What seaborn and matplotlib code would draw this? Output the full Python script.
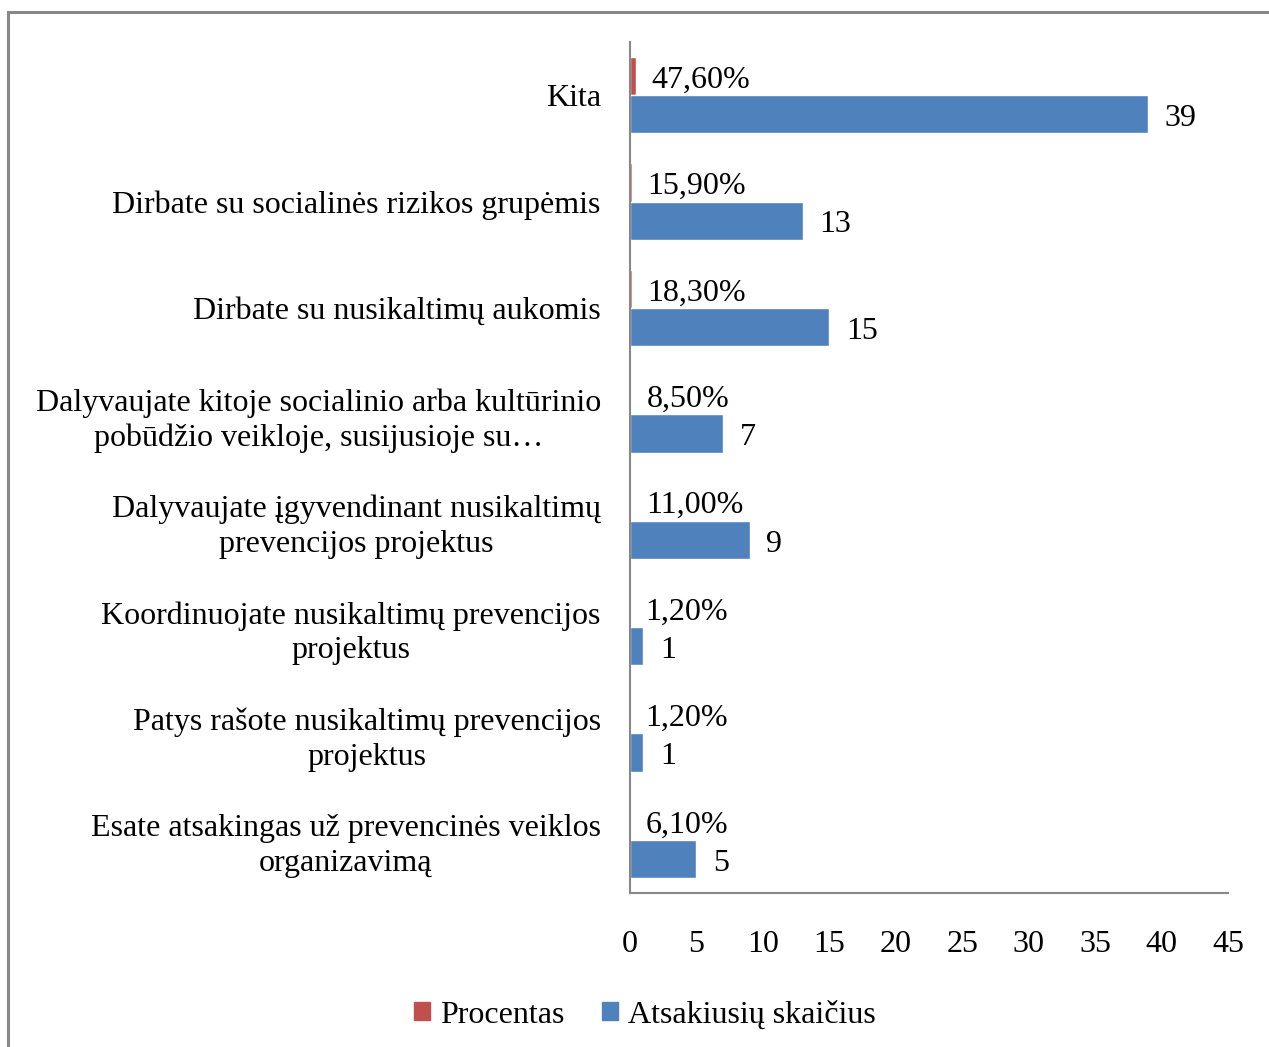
import pandas as pd
import seaborn as sns
import matplotlib.pyplot as plt
from matplotlib.patches import Rectangle

categories = [
    'Kita',
    'Dirbate su socialinės rizikos grupėmis',
    'Dirbate su nusikaltimų aukomis',
    'Dalyvaujate kitoje socialinio arba kultūrinio\npobūdžio veikloje, susijusioje su…',
    'Dalyvaujate įgyvendinant nusikaltimų\nprevencijos projektus',
    'Koordinuojate nusikaltimų prevencijos\nprojektus',
    'Patys rašote nusikaltimų prevencijos\nprojektus',
    'Esate atsakingas už prevencinės veiklos\norganizavimą',
]
percent = [47.6, 15.9, 18.3, 8.5, 11.0, 1.2, 1.2, 6.1]
count = [39, 13, 15, 7, 9, 1, 1, 5]
series = ['Procentas', 'Atsakiusių skaičius']
colors = ['#C0504D', '#4F81BD']

df = pd.DataFrame({
    'cat': categories * 2,
    'value': [p / 100 for p in percent] + count,
    'series': [series[0]] * len(categories) + [series[1]] * len(categories),
})

FS = 23

sns.set_theme(style='white')
plt.rcParams['font.family'] = ['Liberation Serif', 'DejaVu Serif']
plt.rcParams['text.color'] = 'black'
plt.rcParams['xtick.color'] = 'black'
plt.rcParams['ytick.color'] = 'black'

fig = plt.figure(figsize=(12.69, 10.47), dpi=100)
ax = fig.add_axes([630 / 1269, 1 - 893 / 1047, 598 / 1269, 851 / 1047])

sns.barplot(data=df, y='cat', x='value', hue='series', order=categories,
            hue_order=series, palette=colors, orient='h', width=0.72,
            saturation=1, ax=ax, legend=False)

ax.set_xlim(0, 45)
ax.set_ylim(7.5, -0.5)
ax.set_xticks(range(0, 50, 5))
ax.set_xlabel('')
ax.set_ylabel('')
ax.tick_params(axis='x', length=0, pad=27, labelsize=FS)
ax.tick_params(axis='y', length=0, pad=21, labelsize=FS)
for lbl in ax.get_yticklabels():
    lbl.set_multialignment('center')
    lbl.set_linespacing(1.25)

for side in ['top', 'right']:
    ax.spines[side].set_visible(False)
for side in ['left', 'bottom']:
    ax.spines[side].set_color('#888888')
    ax.spines[side].set_linewidth(1.5)

pct_labels = [f'{p:.2f}%'.replace('.', ',') for p in percent]
texts = ax.bar_label(ax.containers[0], labels=pct_labels, padding=11, fontsize=FS)
texts += ax.bar_label(ax.containers[1], labels=[str(c) for c in count], padding=12, fontsize=FS)
for t in texts:
    t.xyann = (t.xyann[0], -3)

handles = [Rectangle((0, 0), 1, 1, color=c) for c in colors]
fig.legend(handles, series, loc='center', bbox_to_anchor=(645 / 1269, 1 - 1015 / 1047),
           ncol=2, frameon=False, fontsize=FS, handlelength=0.5, handleheight=0.5,
           handletextpad=0.3, columnspacing=1.2)

# outer chart frame
fig.patches.append(Rectangle((8 / 1269, -0.1), 1.2, 1 - 12 / 1047 + 0.1,
                             transform=fig.transFigure, fill=False,
                             edgecolor='#888888', linewidth=2.2))

fig.savefig('out.png', dpi=100)
